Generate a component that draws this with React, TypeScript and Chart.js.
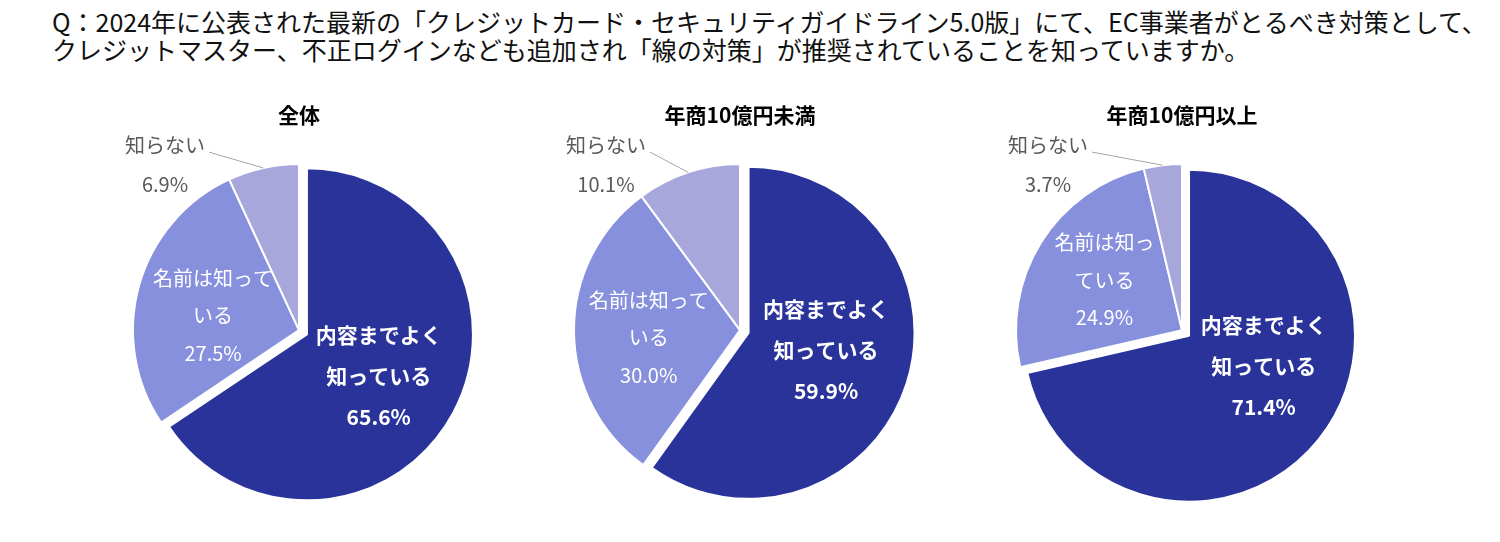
import React, { useEffect, useRef } from "react";
import { Chart, registerables } from "chart.js";

Chart.register(...registerables);

// ---------- data ----------
const TITLE_LINES = [
  "Q：2024年に公表された最新の「クレジットカード・セキュリティガイドライン5.0版」にて、EC事業者がとるべき対策として、",
  "クレジットマスター、不正ログインなども追加され「線の対策」が推奨されていることを知っていますか。",
];
const CATEGORIES = ["内容までよく知っている", "名前は知っている", "知らない"];
const PANEL_TITLES = ["全体", "年商10億円未満", "年商10億円以上"];
const VALUES_ALL = [65.6, 27.5, 6.9];
const VALUES_UNDER_1B = [59.9, 30.0, 10.1];
const VALUES_OVER_1B = [71.4, 24.9, 3.7];
const LABEL_LINES_ALL = [["内容までよく", "知っている"], ["名前は知って", "いる"], ["知らない"]];
const LABEL_LINES_UNDER_1B = [["内容までよく", "知っている"], ["名前は知って", "いる"], ["知らない"]];
const LABEL_LINES_OVER_1B = [["内容までよく", "知っている"], ["名前は知っ", "ている"], ["知らない"]];

// ---------- style ----------
const COLORS = ["#29339a", "#8790dd", "#a7a7dc"];
const FONT = "'Noto Sans CJK JP', 'Noto Sans', sans-serif";
const PANEL_CENTERS = [299, 740, 1182];
// small label nudges (px) per panel, per slice, to follow the reference's label placement
const NUDGES_ALL = [[0, 3], [2, 10], [0, 0]];
const NUDGES_UNDER_1B = [[0, -8], [0, 7], [0, 0]];
const NUDGES_OVER_1B = [[11, -20], [0, -2], [0, 0]];

const explodePlugin = {
  id: "explode",
  afterDatasetsUpdate(chart: any, _args: any, opts: any) {
    const meta = chart.getDatasetMeta(0);
    meta.data.forEach((arc: any, i: number) => {
      const d = (opts.offsets && opts.offsets[i]) || 0;
      if (!d) return;
      const mid = (arc.startAngle + arc.endAngle) / 2;
      arc.x += Math.cos(mid) * d;
      arc.y += Math.sin(mid) * d;
    });
  },
};

const sliceLabelPlugin = {
  id: "sliceLabels",
  afterDatasetsDraw(chart: any, _args: any, opts: any) {
    const ctx = chart.ctx;
    const meta = chart.getDatasetMeta(0);
    const values = chart.data.datasets[0].data;
    const area = chart.chartArea;
    const cx = (area.left + area.right) / 2;
    const cy = (area.top + area.bottom) / 2;
    ctx.save();
    ctx.textAlign = "center";
    ctx.textBaseline = "middle";
    meta.data.forEach((arc: any, i: number) => {
      const cfg = opts.slices[i];
      const nudge = (opts.nudges && opts.nudges[i]) || [0, 0];
      const lines = [...opts.lines[i], values[i].toFixed(1) + "%"];
      const mid = (arc.startAngle + arc.endAngle) / 2;
      ctx.font = `${cfg.bold ? "bold " : ""}${cfg.size}px ${FONT}`;
      ctx.fillStyle = cfg.color;
      if (cfg.outside) {
        const ax = cx + opts.outside.dx;
        const ay = cy + opts.outside.dy;
        lines.forEach((ln: string, k: number) => {
          ctx.fillText(ln, ax, ay + k * cfg.lineHeight);
        });
        const ex = arc.x + Math.cos(mid) * arc.outerRadius;
        const ey = arc.y + Math.sin(mid) * arc.outerRadius;
        ctx.strokeStyle = "#a6a6a6";
        ctx.lineWidth = 1;
        ctx.beginPath();
        ctx.moveTo(cx + opts.outside.leaderDx, cy + opts.outside.leaderDy);
        ctx.lineTo(ex, ey);
        ctx.stroke();
      } else {
        const r = arc.outerRadius * cfg.frac;
        const px = arc.x + Math.cos(mid) * r + nudge[0];
        const py = arc.y + Math.sin(mid) * r + nudge[1];
        const start = py - ((lines.length - 1) * cfg.lineHeight) / 2;
        lines.forEach((ln: string, k: number) => {
          ctx.fillText(ln, px, start + k * cfg.lineHeight);
        });
      }
    });
    ctx.restore();
  },
};

const SLICE_STYLES = [
  { color: "#ffffff", bold: true, size: 21, lineHeight: 41, frac: 0.49 },
  { color: "#ffffff", bold: false, size: 20, lineHeight: 37.5, frac: 0.55 },
  { color: "#595959", bold: false, size: 20, lineHeight: 39, outside: true },
];

function PieChart({
  title,
  values,
  lines,
  nudges,
  centerX,
}: {
  title: string;
  values: number[];
  lines: string[][];
  nudges: number[][];
  centerX: number;
}) {
  const ref = useRef<HTMLCanvasElement | null>(null);
  useEffect(() => {
    if (!ref.current) return;
    const chart = new Chart(ref.current, {
      type: "pie",
      data: {
        labels: CATEGORIES,
        datasets: [
          {
            data: values,
            backgroundColor: COLORS,
            borderColor: "#ffffff",
            borderWidth: 2,
          },
        ],
      },
      options: {
        animation: false,
        responsive: true,
        maintainAspectRatio: false,
        events: [],
        radius: 166,
        layout: { padding: { bottom: 9 } },
        plugins: {
          legend: { display: false },
          tooltip: { enabled: false },
          title: {
            display: true,
            text: title,
            color: "#000000",
            font: { family: FONT, size: 21, weight: "bold" },
            padding: { top: 6, bottom: 6 },
          },
          explode: { offsets: [9, 0, 0] },
          sliceLabels: {
            lines,
            nudges,
            slices: SLICE_STYLES,
            outside: { dx: -134, dy: -185, leaderDx: -90, leaderDy: -178 },
          },
        } as any,
      },
      plugins: [explodePlugin, sliceLabelPlugin],
    });
    return () => chart.destroy();
  }, [title, values, lines, nudges]);
  return (
    <div style={{ position: "absolute", left: centerX - 220, top: 96, width: 440, height: 440 }}>
      <canvas ref={ref} />
    </div>
  );
}

export default function App() {
  return (
    <div
      style={{
        position: "absolute",
        left: 0,
        top: 0,
        width: 1500,
        height: 542,
        background: "#ffffff",
        fontFamily: FONT,
        overflow: "hidden",
      }}
    >
      <div
        style={{
          position: "absolute",
          left: 52,
          top: 7,
          fontSize: 25,
          lineHeight: "28px",
          color: "#111111",
          whiteSpace: "nowrap",
        }}
      >
        {TITLE_LINES.map((t, i) => (
          <div key={i}>{t}</div>
        ))}
      </div>
      <PieChart title={PANEL_TITLES[0]} values={VALUES_ALL} lines={LABEL_LINES_ALL} nudges={NUDGES_ALL} centerX={PANEL_CENTERS[0]} />
      <PieChart title={PANEL_TITLES[1]} values={VALUES_UNDER_1B} lines={LABEL_LINES_UNDER_1B} nudges={NUDGES_UNDER_1B} centerX={PANEL_CENTERS[1]} />
      <PieChart title={PANEL_TITLES[2]} values={VALUES_OVER_1B} lines={LABEL_LINES_OVER_1B} nudges={NUDGES_OVER_1B} centerX={PANEL_CENTERS[2]} />
    </div>
  );
}
